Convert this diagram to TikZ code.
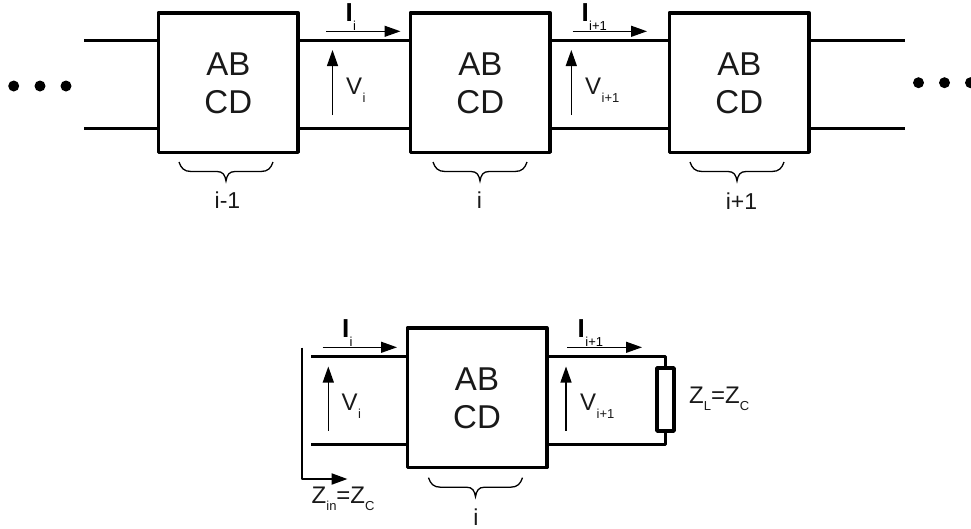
\documentclass[tikz,border=0pt]{standalone}
\usepackage{fontspec}
\setmainfont{Liberation Sans}
\usetikzlibrary{arrows.meta}
\newcommand{\subt}[2][8pt]{\raisebox{-#1}{\fontsize{13}{13}\selectfont\kern0.5pt #2}}
\newcommand{\cursub}[1]{\raisebox{-9pt}{\fontsize{13}{13}\selectfont\mdseries\kern0.5pt #1}}
\tikzset{
  x=1pt,y=-1pt,
  abcd/.style={draw,line width=3.5pt,line join=round,minimum width=139.5pt,minimum height=139.5pt,inner sep=0pt},
  abcdtext/.style={inner sep=0pt,align=center,font=\fontsize{33}{38}\selectfont,text=black!90},
  wire/.style={line width=3.5pt},
  arrowline/.style={line width=1.3pt,-{Triangle[length=16pt,width=11pt]}},
  lbl/.style={anchor=base west,inner sep=0pt,font=\fontsize{24}{24}\selectfont,text=black!90},
  curlbl/.style={anchor=base west,inner sep=0pt,font=\fontsize{26}{26}\selectfont\bfseries},
  idx/.style={anchor=base,inner sep=0pt,font=\fontsize{23}{23}\selectfont,text=black!90},
  dotn/.style={circle,fill=black,inner sep=0pt,minimum size=11pt},
  resist/.style={draw,line width=3.5pt,line join=round,minimum width=17pt,minimum height=63pt,inner sep=0pt},
  bracepic/.pic={\draw[line width=1.3pt] (-47,0) .. controls (-45,6) and (-42,9.5) .. (-35,9.5) -- (-9,9.5) .. controls (-3,9.5) and (-1,13) .. (0,19) .. controls (1,13) and (3,9.5) .. (9,9.5) -- (35,9.5) .. controls (42,9.5) and (45,6) .. (47,0);}
}
\begin{document}
\begin{tikzpicture}
\clip (0,0) rectangle (971,528);
% top row boxes
\node[abcd] (b1) at (228.3,82.5) {};
\node[abcd] (b2) at (480.3,82.5) {};
\node[abcd] (b3) at (739.3,82.5) {};
\node[abcdtext] (t1) at (228.3,83.5) {AB\\CD};
\node[abcdtext] (t2) at (480.3,83.5) {AB\\CD};
\node[abcdtext] (t3) at (739.3,83.5) {AB\\CD};
% wire ends
\coordinate (lt) at (84,40.7);
\coordinate (lb) at (84,128.7);
\coordinate (rt) at (905,40.7);
\coordinate (rb) at (905,128.7);
\draw[wire] (lt) -- (b1.west |- lt);
\draw[wire] (lb) -- (b1.west |- lb);
\draw[wire] (b1.east |- lt) -- (b2.west |- lt);
\draw[wire] (b1.east |- lb) -- (b2.west |- lb);
\draw[wire] (b2.east |- lt) -- (b3.west |- lt);
\draw[wire] (b2.east |- lb) -- (b3.west |- lb);
\draw[wire] (b3.east |- rt) -- (rt);
\draw[wire] (b3.east |- rb) -- (rb);
% dots
\node[dotn] (dl1) at (13.7,86) {};
\node[dotn] (dl2) at (40,86) {};
\node[dotn] (dl3) at (66,86) {};
\node[dotn] (dr1) at (918.5,82.7) {};
\node[dotn] (dr2) at (944.5,82.7) {};
\node[dotn] (dr3) at (970.5,82.7) {};
% current and voltage arrows, top
\coordinate (ia1) at (326,31.3); \coordinate (ia2) at (400.5,31.3);
\coordinate (ib1) at (572.7,31.3); \coordinate (ib2) at (647,31.3);
\coordinate (va1) at (332.5,115); \coordinate (va2) at (332.5,50);
\coordinate (vb1) at (571.3,115); \coordinate (vb2) at (571.3,50);
\draw[arrowline] (ia1) -- (ia2);
\draw[arrowline] (ib1) -- (ib2);
\draw[arrowline] (va1) -- (va2);
\draw[arrowline] (vb1) -- (vb2);
\node[curlbl] (li1) at (345.3,21) {I\cursub{i}};
\node[curlbl] (li2) at (581.3,21) {I\cursub{i+1}};
\node[lbl] (lv1) at (346,94.5) {V\subt{i}};
\node[lbl] (lv2) at (585,94) {V\subt{i+1}};
% braces, top
\pic at (226,162) {bracepic};
\pic at (480,162) {bracepic};
\pic at (737,162) {bracepic};
\node[idx] (n1) at (227.5,208) {i-1};
\node[idx] (n2) at (479.5,208) {i};
\node[idx] (n3) at (741.5,209) {i+1};
% bottom circuit
\node[abcd] (b4) at (477,397.7) {};
\node[abcdtext] (t4) at (477,398.7) {AB\\CD};
\coordinate (bl) at (311,356.3);
\coordinate (bm) at (311,444.3);
\node[resist] (rl) at (665.5,399.5) {};
\coordinate (ct) at (665.5,356.3);
\coordinate (cb) at (665.5,444.3);
\draw[wire] (bl) -- (b4.west |- bl);
\draw[wire] (bm) -- (b4.west |- bm);
\draw[wire,line join=round] (b4.east |- ct) -- (ct) -- (rl.north);
\draw[wire,line join=round] (b4.east |- cb) -- (cb) -- (rl.south);
\coordinate (za) at (301.7,347.7);
\coordinate (zc) at (301.7,479);
\coordinate (zb) at (347.5,479);
\draw[line width=2.2pt,line join=round,-{Triangle[length=16pt,width=11pt]}] (za) -- (zc) -- (zb);
\coordinate (ic1) at (322.7,347.3); \coordinate (ic2) at (397,347.3);
\coordinate (id1) at (567.3,347.3); \coordinate (id2) at (642,347.3);
\coordinate (vc1) at (328.3,430.7); \coordinate (vc2) at (328.3,366.5);
\coordinate (vd1) at (566,430.7); \coordinate (vd2) at (566,366.5);
\draw[arrowline] (ic1) -- (ic2);
\draw[arrowline] (id1) -- (id2);
\draw[arrowline] (vc1) -- (vc2);
\draw[arrowline] (vd1) -- (vd2);
\node[curlbl] (li3) at (341.8,337.7) {I\cursub{i}};
\node[curlbl] (li4) at (577.5,337.7) {I\cursub{i+1}};
\node[lbl] (lv3) at (341.5,410.5) {V\subt{i}};
\node[lbl] (lv4) at (580,410.5) {V\subt{i+1}};
\node[lbl] (zl) at (689,403) {Z\raisebox{-7pt}{\fontsize{13}{13}\selectfont L}=Z\raisebox{-7pt}{\fontsize{13}{13}\selectfont C}};
\node[lbl] (zi) at (311.5,503) {Z\raisebox{-7pt}{\fontsize{13}{13}\selectfont in}=Z\raisebox{-7pt}{\fontsize{13}{13}\selectfont C}};
\pic at (475.5,477.7) {bracepic};
\node[idx] (n4) at (476,525) {i};
\end{tikzpicture}
\end{document}
